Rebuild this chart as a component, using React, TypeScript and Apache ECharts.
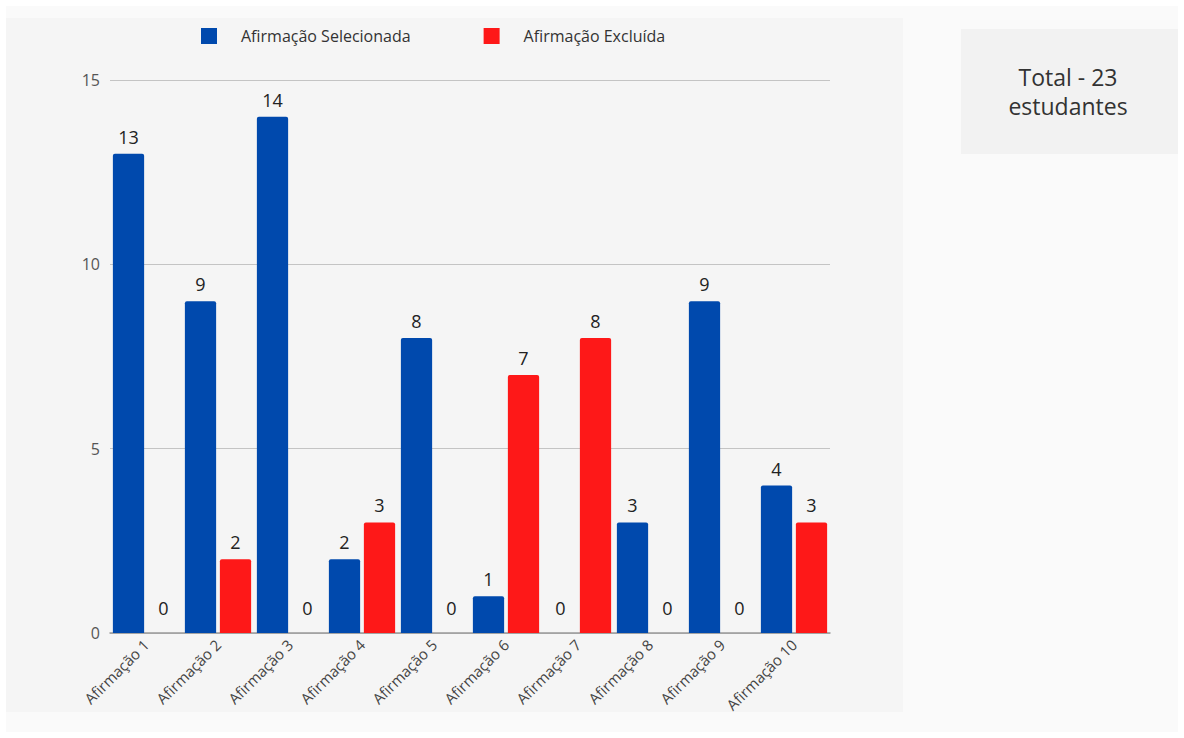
import React, { useEffect, useRef } from "react";
import * as echarts from "echarts";

const categories = [
  "Afirmação 1",
  "Afirmação 2",
  "Afirmação 3",
  "Afirmação 4",
  "Afirmação 5",
  "Afirmação 6",
  "Afirmação 7",
  "Afirmação 8",
  "Afirmação 9",
  "Afirmação 10",
];
const selecionada = [13, 9, 14, 2, 8, 1, 0, 3, 9, 4];
const excluida = [0, 2, 0, 3, 0, 7, 8, 0, 0, 3];
const seriesNames = ["Afirmação Selecionada", "Afirmação Excluída"];
const totalLines = ["Total - 23", "estudantes"];

const FONT = "'Open Sans', 'Noto Sans', sans-serif";
const BLUE = "#0049ad";
const RED = "#fe1818";

// zero-height bars get their label lifted a little further off the axis
const withLabels = (values: number[]) =>
  values.map((v) => (v === 0 ? { value: v, label: { distance: 16 } } : v));

export default function App() {
  const ref = useRef<HTMLDivElement>(null);

  useEffect(() => {
    if (!ref.current) return;
    const chart = echarts.init(ref.current, null, { renderer: "svg" });
    const valueLabel = {
      show: true,
      position: "top" as const,
      distance: 8,
      color: "#222",
      fontSize: 18,
      fontFamily: FONT,
    };
    chart.setOption({
      animation: false,
      backgroundColor: "#ffffff",
      graphic: [
        {
          type: "rect",
          z: -10,
          silent: true,
          shape: { x: 6, y: 6, width: 1172, height: 726 },
          style: { fill: "#fafafa" },
        },
        {
          type: "rect",
          z: -9,
          silent: true,
          shape: { x: 6, y: 18, width: 897, height: 694 },
          style: { fill: "#f5f5f5" },
        },
        {
          type: "rect",
          z: -9,
          silent: true,
          shape: { x: 961, y: 29, width: 217, height: 125 },
          style: { fill: "#f2f2f2" },
        },
        {
          type: "text",
          x: 1068,
          y: 91,
          style: {
            text: totalLines.join("\n"),
            fill: "#333",
            font: `23px ${FONT}`,
            lineHeight: 29,
            align: "center",
            verticalAlign: "middle",
          },
        },
      ],
      legend: {
        top: 28,
        left: 201,
        padding: 0,
        itemWidth: 16,
        itemHeight: 16,
        itemGap: 73,
        icon: "rect",
        textStyle: { color: "#333", fontSize: 16, fontFamily: FONT, padding: [0, 0, 0, 19] },
        data: seriesNames,
      },
      grid: { left: 110, right: 354, top: 80, bottom: 105, containLabel: false },
      xAxis: {
        type: "category",
        data: categories,
        axisLine: { show: true, lineStyle: { color: "#999", width: 1.5 } },
        axisTick: { show: false },
        axisLabel: {
          rotate: 45,
          interval: 0,
          color: "#444",
          fontSize: 15,
          fontFamily: FONT,
          margin: 9,
        },
      },
      yAxis: {
        type: "value",
        min: 0,
        max: 15,
        interval: 5,
        axisLine: { show: false },
        axisTick: { show: false },
        splitLine: { lineStyle: { color: "#c4c4c4", width: 1 } },
        axisLabel: { color: "#555", fontSize: 16, fontFamily: FONT, margin: 10 },
      },
      series: [
        {
          name: seriesNames[0],
          type: "bar",
          data: withLabels(selecionada),
          itemStyle: { color: BLUE, borderRadius: [2, 2, 0, 0] },
          barGap: "12%",
          barCategoryGap: "8%",
          label: valueLabel,
        },
        {
          name: seriesNames[1],
          type: "bar",
          data: withLabels(excluida),
          itemStyle: { color: RED, borderRadius: [2, 2, 0, 0] },
          barGap: "12%",
          barCategoryGap: "8%",
          label: valueLabel,
        },
      ],
    });
    return () => chart.dispose();
  }, []);

  return (
    <div
      ref={ref}
      style={{ position: "fixed", left: 0, top: 0, width: 1184, height: 738 }}
    />
  );
}
